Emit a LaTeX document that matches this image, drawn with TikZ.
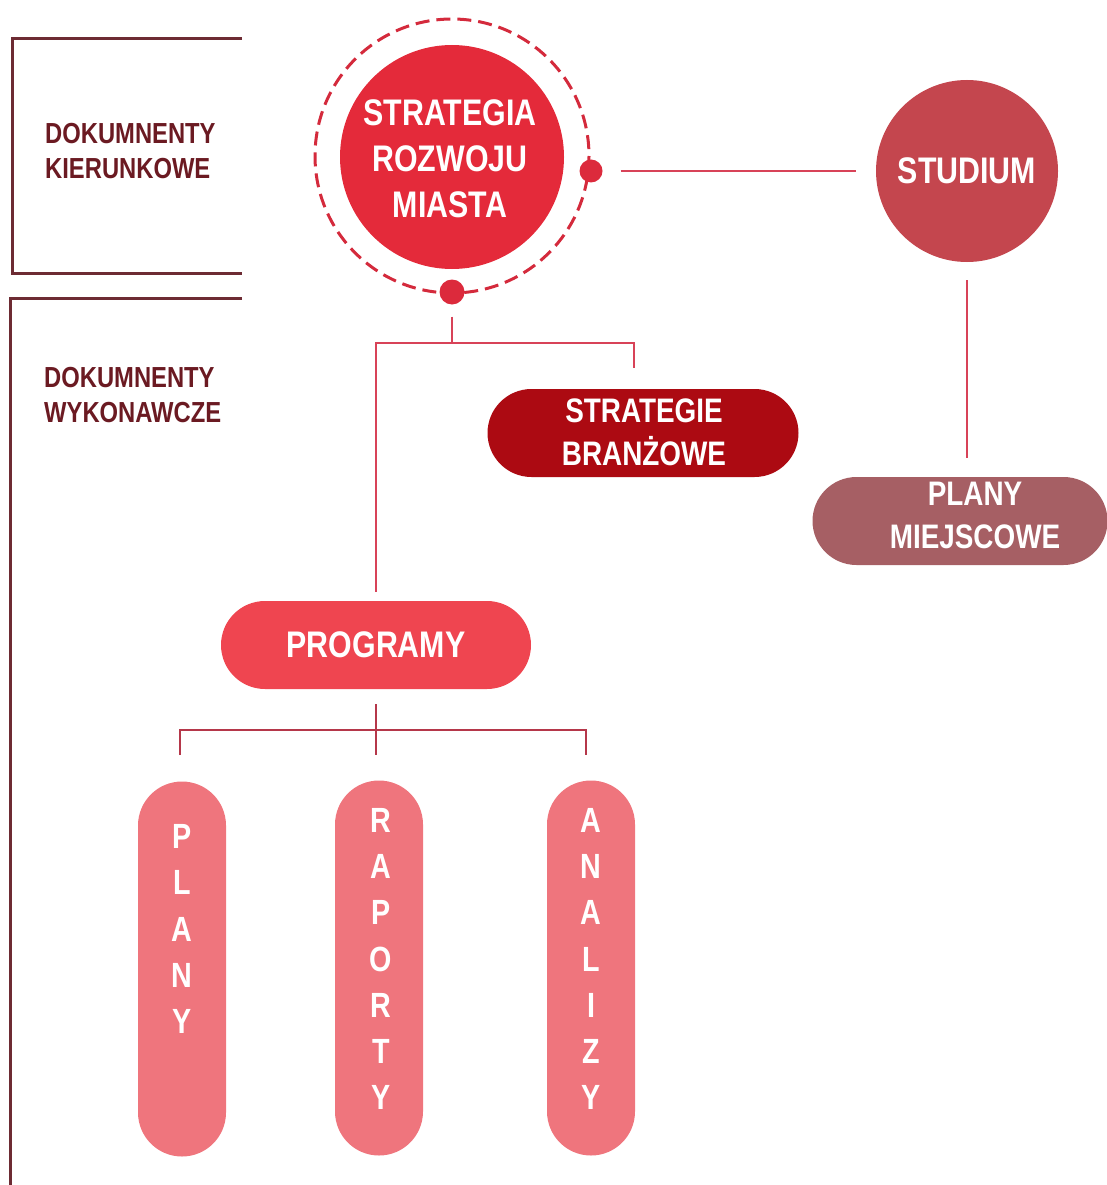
\documentclass[tikz,border=0pt]{standalone}
\usepackage{fontspec}
\newfontfamily\nar{Liberation Sans}[FakeStretch=0.82]
\definecolor{maroon}{HTML}{6D2B33}
\definecolor{sidetxt}{HTML}{6B1A22}
\definecolor{ringc}{HTML}{D42A3C}
\definecolor{dotc}{HTML}{DC2A3C}
\definecolor{mainc}{HTML}{E42A3A}
\definecolor{connc}{HTML}{D84358}
\definecolor{studc}{HTML}{C4464E}
\definecolor{miejc}{HTML}{A65F64}
\definecolor{branc}{HTML}{AC0A12}
\definecolor{progc}{HTML}{EF4550}
\definecolor{conn2c}{HTML}{B5374A}
\definecolor{vpc}{HTML}{EF757D}
\tikzset{
  bracket/.style={draw=maroon, line width=3pt},
  side/.style={text=sidetxt, font=\nar\bfseries\fontsize{29}{35}\selectfont, align=left, anchor=west, inner sep=0pt},
  wtxt/.style={text=white, align=center, inner sep=0pt},
  big/.style={font=\nar\bfseries\fontsize{37}{46}\selectfont},
  mid/.style={font=\nar\bfseries\fontsize{34}{43}\selectfont},
  pill/.style={rounded corners=44pt, minimum height=88pt, inner sep=0pt},
  vpill/.style={fill=vpc, rounded corners=44pt, minimum width=88pt, minimum height=375pt, inner sep=0pt},
  dotn/.style={circle, fill=dotc, inner sep=0pt},
  conn/.style={draw=connc, line width=2pt},
  conn2/.style={draw=conn2c, line width=2.2pt},
}
\begin{document}
\begin{tikzpicture}[x=1pt,y=-1pt]
\useasboundingbox (0,0) rectangle (1107,1185);
\clip (0,0) rectangle (1107,1185);
% brackets
\draw[bracket] (242,39) -- (12,39) -- (12,273) -- (242,273);
\draw[bracket] (242,298) -- (10,298) -- (10,1190);
\node[side] (kier) at (45,151) {DOKUMNENTY\\KIERUNKOWE};
\node[side] (wyk) at (44,395) {DOKUMNENTY\\WYKONAWCZE};
% main circle
\draw[draw=ringc, line width=3pt, dash pattern=on 14pt off 7pt] (452,156) circle[radius=137];
\node[circle, fill=mainc, minimum size=224pt, inner sep=0pt] (srm) at (452,157) {};
\node[wtxt, big] (srmt) at (450,159) {STRATEGIA\\ROZWOJU\\MIASTA};
\node[dotn, minimum size=23pt] (rdot) at (591,171) {};
\node[dotn, minimum size=25pt] (bdot) at (452,292) {};
% studium
\node[circle, fill=studc, minimum size=182pt, inner sep=0pt, text=white, font=\nar\bfseries\fontsize{37}{46}\selectfont] (stud) at (967,171) {STUDIUM};
\draw[conn, shorten <=18pt, shorten >=20pt] (rdot.east) -- (stud.west);
% plany miejscowe
\node[pill, fill=miejc, minimum width=295pt] (pm) at (960,521) {};
\node[wtxt, mid] (pmt) at (975,515) {PLANY\\MIEJSCOWE};
\draw[conn, shorten <=18pt, shorten >=19pt] (stud.south) -- (stud.south |- pm.north);
% strategie branzowe
\node[pill, fill=branc, minimum width=311pt] (sb) at (643,433) {};
\node[wtxt, mid] (sbt) at (644,432) {STRATEGIE\\BRANŻOWE};
% programy
\node[pill, fill=progc, minimum width=310pt, text=white, big] (prog) at (376,645) {PROGRAMY};
\coordinate (j1) at (452,343);
\coordinate (j2) at (634,368);
\draw[conn, shorten <=12pt] (bdot.south) -- (j1);
\draw[conn, shorten <=9pt] (prog.north) |- (j1) -| (j2);
% lower
\coordinate (kL) at (180,755);
\coordinate (kM) at (376,755);
\coordinate (kR) at (586,755);
\draw[conn2, shorten <=15pt] (prog.south) -- (kM);
\draw[conn2] (kL) -- ++(0,-25) -| (kR);
\node[vpill] (pl) at (182,969) {};
\node[vpill] (rap) at (379,968) {};
\node[vpill] (ana) at (591,968) {};
\node[wtxt, font=\nar\bfseries\fontsize{35}{46.2}\selectfont] (plt) at (182,929) {P\\L\\A\\N\\Y};
\node[wtxt, font=\nar\bfseries\fontsize{35}{46.2}\selectfont] (rapt) at (381,959) {R\\A\\P\\O\\R\\T\\Y};
\node[wtxt, font=\nar\bfseries\fontsize{35}{46.2}\selectfont] (anat) at (591,959) {A\\N\\A\\L\\I\\Z\\Y};
\end{tikzpicture}
\end{document}
